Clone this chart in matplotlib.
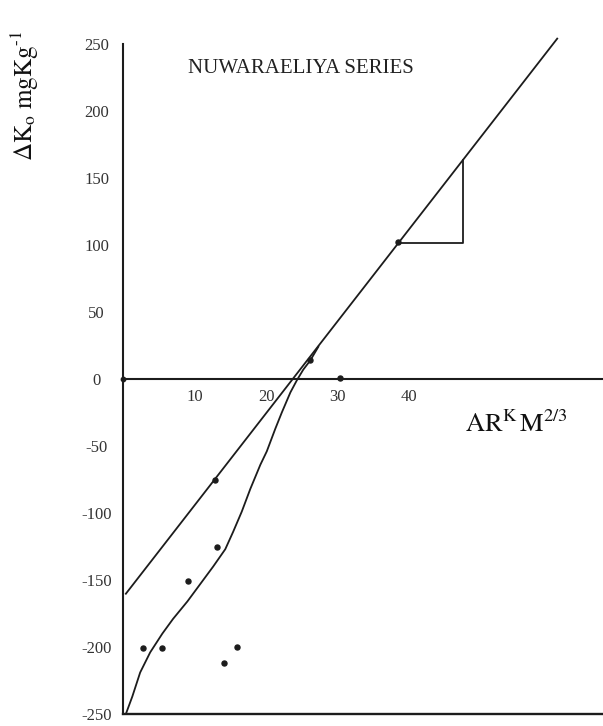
import matplotlib
matplotlib.use('Agg')
import matplotlib.pyplot as plt

plt.rcParams['font.family'] = ['Liberation Serif', 'DejaVu Serif']
plt.rcParams['mathtext.fontset'] = 'stix'
plt.rcParams['axes.unicode_minus'] = False

# fitted straight line (intercept, slope)
line_b = -163.0
line_m = 6.87
line_x = [0.4, 60.7]

# smooth S-shaped curve through the data
curve_x = [0.4, 1.3, 2.4, 3.8, 5.5, 7.0, 9.0, 10.8, 12.6, 14.3, 15.4, 16.6,
           17.8, 19.2, 20.1, 21.3, 22.2, 23.4, 24.3, 25.2, 26.2, 27.3]
curve_y = [-250, -237, -219, -204, -190, -179, -166, -153, -140, -127, -114, -99,
           -82, -64, -54, -37, -25, -10, -1, 7, 14, 24]

# measured points
pts_x = [2.8, 5.5, 9.1, 13.2, 14.1, 15.9, 12.9, 26.2, 30.3, 38.5]
pts_y = [-201, -201, -151, -125, -212, -200, -75, 14, 1, 102]

# slope triangle
tri_x0 = 38.5
tri_x1 = 47.5

y_ticks = [250, 200, 150, 100, 50, 0, -50, -100, -150, -200, -250]
x_ticks = [10, 20, 30, 40]

ink = '#1c1c1c'

fig = plt.figure(figsize=(6.03, 7.26), dpi=100)
ax = fig.add_axes([123/603, 12/726, 480/603, 676.7/726])
ax.set_xlim(0, 67.1)
ax.set_ylim(-250, 255)

for s in ['top', 'right']:
    ax.spines[s].set_visible(False)
ax.spines['left'].set_bounds(-250, 250)
ax.spines['left'].set_linewidth(1.5)
ax.spines['left'].set_color(ink)
ax.spines['bottom'].set_position(('data', 0))
ax.spines['bottom'].set_linewidth(1.5)
ax.spines['bottom'].set_color(ink)
ax.axhline(-250, color=ink, lw=1.7, clip_on=False)

ax.set_yticks(y_ticks)
ax.set_yticklabels([str(v) for v in y_ticks])
ax.set_xticks(x_ticks)
ax.set_xticklabels([str(v) for v in x_ticks])
ax.tick_params(axis='y', length=0, pad=19, labelsize=12, labelcolor='#333333')
ax.tick_params(axis='x', length=0, pad=7, labelsize=12, labelcolor='#333333')
for lab in ax.get_yticklabels():
    lab.set_horizontalalignment('center')

# straight line and curve
ax.plot(line_x, [line_b + line_m * x for x in line_x], color=ink, lw=1.3)
ax.plot(curve_x, curve_y, color=ink, lw=1.3)

# slope triangle
tri_y0 = line_b + line_m * tri_x0
tri_y1 = line_b + line_m * tri_x1
ax.plot([tri_x0, tri_x1, tri_x1], [tri_y0, tri_y0, tri_y1], color=ink, lw=1.3)

ax.scatter(pts_x, pts_y, s=13, color=ink, zorder=3)
ax.scatter([0], [0], s=10, color=ink, zorder=3, clip_on=False)

fig.text(188/603, 1 - 73/726, 'NUWARAELIYA SERIES', fontsize=15,
         color='#222222', va='baseline', ha='left')
fig.text(25/603, 1 - 96/726, r'$\Delta\mathrm{K_o\ mgKg^{\text{-}1}}$', fontsize=18,
         rotation=90, ha='center', va='center', color='#111111')
fig.text(465/603, 1 - 432/726, r'$\mathrm{AR^K\,M^{2/3}}$', fontsize=19,
         ha='left', va='baseline', color='#111111')

fig.savefig('out.png', dpi=100, facecolor='white')
